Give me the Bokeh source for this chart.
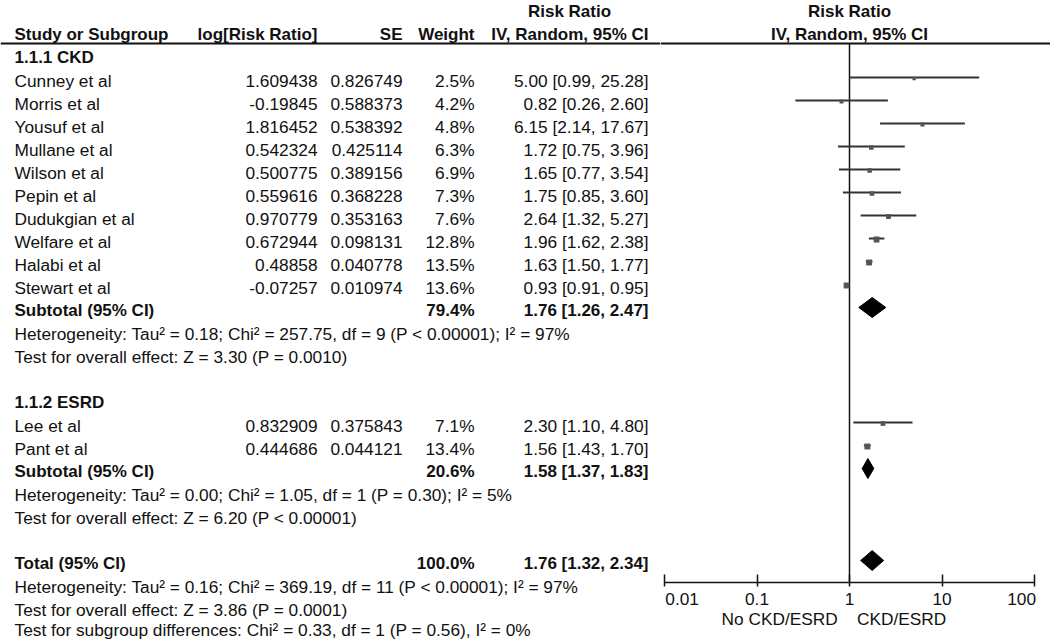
from bokeh.plotting import figure
from bokeh.layouts import row
from bokeh.models import Range1d, FixedTicker, ColumnDataSource, Span
from bokeh.core.properties import value
from bokeh.embed import file_html
from bokeh.resources import INLINE
import math

# ---------------- data ----------------
ckd_studies = ["Cunney et al", "Morris et al", "Yousuf et al", "Mullane et al", "Wilson et al",
               "Pepin et al", "Dudukgian et al", "Welfare et al", "Halabi et al", "Stewart et al"]
ckd_logrr = [1.609438, -0.19845, 1.816452, 0.542324, 0.500775, 0.559616, 0.970779, 0.672944, 0.48858, -0.07257]
ckd_se = [0.826749, 0.588373, 0.538392, 0.425114, 0.389156, 0.368228, 0.353163, 0.098131, 0.040778, 0.010974]
ckd_weight = [2.5, 4.2, 4.8, 6.3, 6.9, 7.3, 7.6, 12.8, 13.5, 13.6]
ckd_rr = [5.00, 0.82, 6.15, 1.72, 1.65, 1.75, 2.64, 1.96, 1.63, 0.93]
ckd_lo = [0.99, 0.26, 2.14, 0.75, 0.77, 0.85, 1.32, 1.62, 1.50, 0.91]
ckd_hi = [25.28, 2.60, 17.67, 3.96, 3.54, 3.60, 5.27, 2.38, 1.77, 0.95]

esrd_studies = ["Lee et al", "Pant et al"]
esrd_logrr = [0.832909, 0.444686]
esrd_se = [0.375843, 0.044121]
esrd_weight = [7.1, 13.4]
esrd_rr = [2.30, 1.56]
esrd_lo = [1.10, 1.43]
esrd_hi = [4.80, 1.70]

pooled_labels = ["Subtotal (95% CI)", "Subtotal (95% CI)", "Total (95% CI)"]
pooled_weight = [79.4, 20.6, 100.0]
pooled_rr = [1.76, 1.58, 1.76]
pooled_lo = [1.26, 1.37, 1.32]
pooled_hi = [2.47, 1.83, 2.34]

group_titles = ["1.1.1 CKD", "1.1.2 ESRD"]
ckd_notes = ["Heterogeneity: Tau² = 0.18; Chi² = 257.75, df = 9 (P < 0.00001); I² = 97%",
             "Test for overall effect: Z = 3.30 (P = 0.0010)"]
esrd_notes = ["Heterogeneity: Tau² = 0.00; Chi² = 1.05, df = 1 (P = 0.30); I² = 5%",
              "Test for overall effect: Z = 6.20 (P < 0.00001)"]
total_notes = ["Heterogeneity: Tau² = 0.16; Chi² = 369.19, df = 11 (P < 0.00001); I² = 97%",
               "Test for overall effect: Z = 3.86 (P = 0.0001)",
               "Test for subgroup differences: Chi² = 0.33, df = 1 (P = 0.56), I² = 0%"]

col_headers = ["Study or Subgroup", "log[Risk Ratio]", "SE", "Weight", "IV, Random, 95% CI"]
top_header = "Risk Ratio"
plot_headers = ["Risk Ratio", "IV, Random, 95% CI"]
axis_ticks = [0.01, 0.1, 1, 10, 100]
axis_tick_labels = ["0.01", "0.1", "1", "10", "100"]
favours = ["No CKD/ESRD", "CKD/ESRD"]

# ---------------- layout helpers ----------------
FONT = "Liberation Sans"
FS = "17.3px"
FS_B = "17px"
TXT_OFF = 3
NBSP = "\u00a0"


def line_y(r):
    return 77 + 23 * (r - 2)


def text_y(r):
    return line_y(r) + TXT_OFF


ckd_rows = list(range(2, 2 + len(ckd_studies)))
esrd_rows = [17, 18]
pooled_rows = [12, 19, 23]
title_rows = [1, 16]
ckd_note_rows = [13, 14]
esrd_note_rows = [20, 21]
total_note_rows = [24, 25, 26]

FIG_H = 639
LEFT_W = 660
RIGHT_W = 1050 - LEFT_W
AXIS_Y = 582
RIGHT_BOTTOM_PX = FIG_H - AXIS_Y

X_NAME, X_LOG, X_SE, X_W, X_CI, X_RRHEAD = 14, 317, 402, 474, 648, 569
HEAD_RULE_Y = 43


def put(fig, xs, ys, texts, align, bold=False):
    src = ColumnDataSource(dict(x=xs, y=ys, t=texts))
    fig.text(x="x", y="y", text="t", source=src, text_align=align, text_baseline="middle",
             text_font=value(FONT), text_font_size=FS_B if bold else FS,
             text_font_style="bold" if bold else "normal", text_color="#111111")


# ---------------- left: table ----------------
left = figure(width=LEFT_W, height=FIG_H, x_range=Range1d(0, LEFT_W), y_range=Range1d(FIG_H, 0),
              output_backend="svg", toolbar_location=None, x_axis_location=None,
              y_axis_location=None, min_border=0, outline_line_color=None)
left.grid.visible = False
left.frame_align = False

put(left, [X_RRHEAD], [text_y(-1)], [top_header], "center", bold=True)
put(left, [X_NAME], [text_y(0)], [col_headers[0]], "left", bold=True)
put(left, [X_LOG, X_SE, X_W, X_CI], [text_y(0)] * 4, col_headers[1:], "right", bold=True)
left.add_layout(Span(location=HEAD_RULE_Y, dimension="width", line_color="#111111", line_width=2))

put(left, [X_NAME] * 2, [text_y(r) for r in title_rows], group_titles, "left", bold=True)

all_names = ckd_studies + esrd_studies
all_rows = ckd_rows + esrd_rows
all_log = ckd_logrr + esrd_logrr
all_se = ckd_se + esrd_se
all_w = ckd_weight + esrd_weight
all_rr = ckd_rr + esrd_rr
all_lo = ckd_lo + esrd_lo
all_hi = ckd_hi + esrd_hi
ys = [text_y(r) for r in all_rows]

put(left, [X_NAME] * len(all_names), ys, all_names, "left")
put(left, [X_LOG] * len(ys), ys, [str(v) for v in all_log], "right")
put(left, [X_SE] * len(ys), ys, [str(v) for v in all_se], "right")
put(left, [X_W] * len(ys), ys, [f"{w:.1f}%" for w in all_w], "right")
put(left, [X_CI] * len(ys), ys, [f"{a:.2f} [{b:.2f}, {c:.2f}]" for a, b, c in zip(all_rr, all_lo, all_hi)], "right")

pys = [text_y(r) for r in pooled_rows]
put(left, [X_NAME] * 3, pys, pooled_labels, "left", bold=True)
put(left, [X_W] * 3, pys, [f"{w:.1f}%" for w in pooled_weight], "right", bold=True)
put(left, [X_CI] * 3, pys, [f"{a:.2f} [{b:.2f}, {c:.2f}]" for a, b, c in zip(pooled_rr, pooled_lo, pooled_hi)], "right", bold=True)

notes = ckd_notes + esrd_notes + total_notes
note_rows = ckd_note_rows + esrd_note_rows + total_note_rows
note_y = [text_y(r) for r in note_rows]
note_y[-1] = min(note_y[-1], FIG_H - 10)   # keep the last line inside the canvas
put(left, [X_NAME] * len(notes), note_y, notes, "left")

# ---------------- right: forest plot ----------------
DEC = 92.5      # pixels per decade
X_ONE = 849     # pixel position of RR = 1
x_lo = 10 ** ((LEFT_W - X_ONE) / DEC)
x_hi = 10 ** ((1050 - X_ONE) / DEC)
right = figure(width=RIGHT_W, height=FIG_H, x_axis_type="log", x_range=Range1d(x_lo, x_hi),
               y_range=Range1d(AXIS_Y, 0), output_backend="svg", toolbar_location=None,
               y_axis_location=None, min_border=0, min_border_bottom=RIGHT_BOTTOM_PX,
               outline_line_color=None)
right.grid.visible = False
right.frame_align = False

put(right, [1, 1], [text_y(-1), text_y(0)], plot_headers, "center", bold=True)
right.add_layout(Span(location=HEAD_RULE_Y, dimension="width", line_color="#111111", line_width=2))

# line of no effect
right.segment(x0=[1], x1=[1], y0=[HEAD_RULE_Y], y1=[AXIS_Y + 20], line_color="#111111", line_width=1.5)

ly = [line_y(r) for r in all_rows]
right.segment(x0=all_lo, x1=all_hi, y0=ly, y1=ly, line_color="#333333", line_width=1.8)
right.scatter(x=all_rr, y=[v + 1 for v in ly], marker="square",
              size=[1.5 + 1.2 * math.sqrt(w) for w in all_w], fill_color="#555555", line_color=None)

DH = 10
dxs = [[a, b, c, b] for a, b, c in zip(pooled_lo, pooled_rr, pooled_hi)]
dys = [[line_y(r), line_y(r) - DH, line_y(r), line_y(r) + DH] for r in pooled_rows]
right.patches(xs=dxs, ys=dys, fill_color="#000000", line_color="#000000", line_width=1)

ax = right.xaxis[0]
ax.ticker = FixedTicker(ticks=axis_ticks)
labels = list(axis_tick_labels)
labels[0] = NBSP + labels[0]
labels[-1] = labels[-1] + NBSP * 3
ax.major_label_overrides = {t: l for t, l in zip(axis_ticks, labels)}
ax.bounds = (axis_ticks[0], axis_ticks[-1])
ax.minor_tick_line_color = None
ax.major_tick_in = 8
ax.major_tick_out = 4
ax.axis_line_width = 1.5
ax.axis_line_color = "#111111"
ax.major_tick_line_width = 1.5
ax.major_tick_line_color = "#111111"
ax.major_label_standoff = 2
ax.major_label_text_font = FONT
ax.major_label_text_font_size = FS
ax.major_label_text_color = "#111111"
ax.axis_label = favours[0] + NBSP * 4 + favours[1] + NBSP * 9
ax.axis_label_text_font = FONT
ax.axis_label_text_font_size = FS
ax.axis_label_text_font_style = "normal"
ax.axis_label_text_color = "#111111"
ax.axis_label_standoff = -3

layout = row(left, right)
open("out.html", "w").write(file_html(layout, INLINE))
